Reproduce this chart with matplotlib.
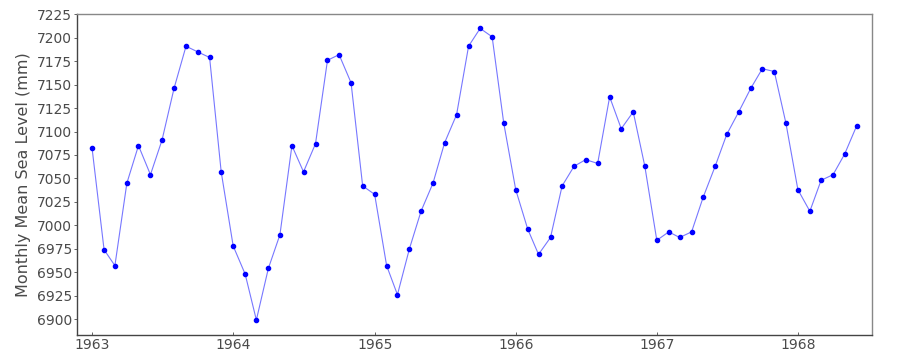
import numpy as np
import pandas as pd
import matplotlib
matplotlib.use('Agg')
import matplotlib.pyplot as plt
import matplotlib.dates as mdates

# Data bulanan, Jan 1963 - Jun 1968
tanggal = pd.date_range('1963-01-01', periods=66, freq='MS')
muka_air = [7082, 6974, 6957, 7045, 7085, 7054, 7091, 7146, 7191, 7185, 7179, 7057,
            6978, 6948, 6899, 6954, 6990, 7085, 7057, 7087, 7176, 7182, 7152, 7042,
            7033, 6957, 6926, 6975, 7015, 7045, 7088, 7118, 7191, 7210, 7201, 7109,
            7038, 6996, 6969, 6987, 7042, 7063, 7070, 7066, 7137, 7103, 7121, 7063,
            6984, 6993, 6987, 6993, 7030, 7063, 7097, 7121, 7146, 7167, 7164, 7109,
            7038, 7015, 7048, 7054, 7076, 7106]
yticks = np.arange(6900, 7226, 25)

WARNA_TEKS = '#4a4a4a'

fig = plt.figure(figsize=(9, 3.6), dpi=100)
ax = fig.add_axes([0.086, 0.0694, 0.883, 0.8908])

ax.plot(tanggal, muka_air, color='#7777ff', linewidth=0.8, zorder=1)
ax.plot(tanggal, muka_air, linestyle='none', marker='o', markersize=3,
        color='#0000ff', zorder=2)

ax.set_xlim(tanggal[0] - pd.Timedelta(days=38), tanggal[-1] + pd.Timedelta(days=40))
ax.set_ylim(6883, 7225)
ax.set_yticks(yticks)
ax.xaxis.set_major_locator(mdates.YearLocator())
ax.xaxis.set_major_formatter(mdates.DateFormatter('%Y'))

ax.set_ylabel('Monthly Mean Sea Level (mm)', fontsize=11.5, color=WARNA_TEKS, labelpad=4)
ax.tick_params(axis='both', labelsize=10, colors=WARNA_TEKS, length=2, width=0.6, pad=2)
ax.tick_params(axis='x', direction='in')

for nama, sp in ax.spines.items():
    sp.set_linewidth(1.0)
    sp.set_color('#444444' if nama in ('left', 'bottom') else '#888888')

fig.savefig('out.png', dpi=100)
